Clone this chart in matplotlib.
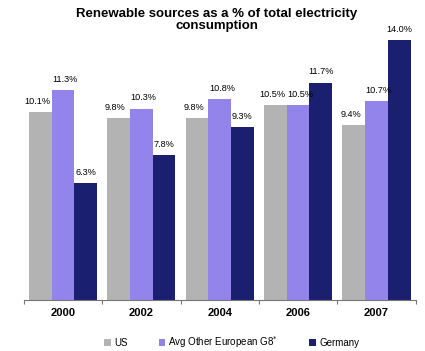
import numpy as np
import matplotlib
matplotlib.use("Agg")
import matplotlib.pyplot as plt
from matplotlib.patches import Patch

plt.rcParams['font.family'] = ['Liberation Sans', 'DejaVu Sans']

years = ['2000', '2002', '2004', '2006', '2007']
us = [10.1, 9.8, 9.8, 10.5, 9.4]
avg_eu = [11.3, 10.3, 10.8, 10.5, 10.7]
germany = [6.3, 7.8, 9.3, 11.7, 14.0]

series = [('US', us, '#b3b3b3'),
          ('Avg Other European G8$^{*}$', avg_eu, '#9384ec'),
          ('Germany', germany, '#1b1f70')]
label_shift = [-0.04, 0.03, 0.0]

fig = plt.figure(figsize=(4.25, 3.51), dpi=100)
ax = fig.add_axes([0.056, 0.1453, 0.922, 0.82])

x = np.arange(len(years))
w = 0.29
handles = []
for i, (name, vals, col) in enumerate(series):
    pos = x + (i - 1) * w
    ax.bar(pos, vals, width=w, color=col, edgecolor='none')
    for p, v in zip(pos, vals):
        ax.text(p + label_shift[i], v + 0.35, f'{v:.1f}%', ha='center', va='bottom',
                fontsize=6.6)
    handles.append(Patch(facecolor=col, label=name))

ax.set_xlim(-0.5, len(years) - 0.5)
ax.set_ylim(0, 15.5)
for s in ['top', 'right', 'left']:
    ax.spines[s].set_visible(False)
ax.spines['bottom'].set_color('#777777')
ax.set_yticks([])
ax.set_xticks(np.arange(len(years) + 1) - 0.5)
ax.set_xticklabels([])
ax.tick_params(axis='x', which='major', length=3, color='#777777')
ax.set_xticks(x, minor=True)
ax.set_xticklabels(years, minor=True, fontsize=8, fontweight='bold')
ax.tick_params(axis='x', which='minor', length=0, pad=6)

fig.text(0.51, 0.978, 'Renewable sources as a % of total electricity\nconsumption',
         ha='center', va='top', fontsize=9.5, fontweight='bold', linespacing=1.0)

fig.legend(handles=handles, loc='center', bbox_to_anchor=(0.545, 0.025), ncol=3,
           frameon=False, fontsize=7, handlelength=0.7, handleheight=0.7,
           handletextpad=0.3, columnspacing=3.2)

fig.savefig('out.png', dpi=100)
